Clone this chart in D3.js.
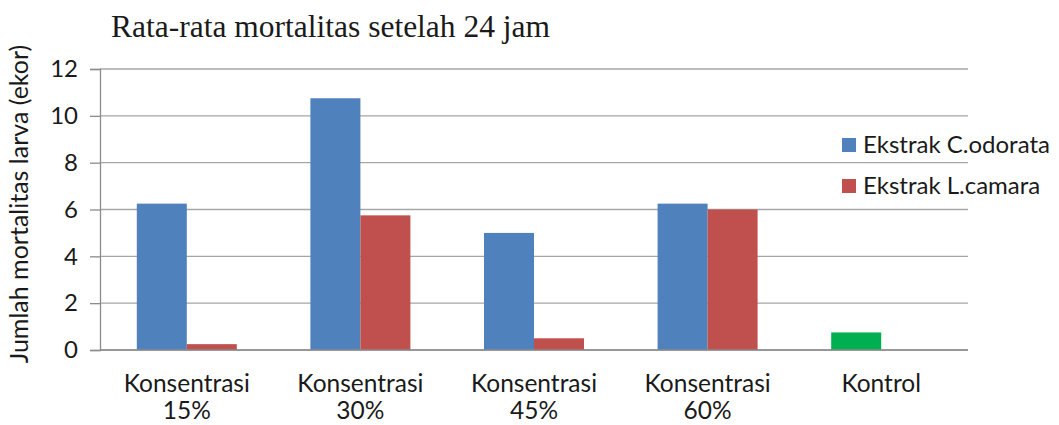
<!DOCTYPE html>
<html>
<head>
<meta charset="utf-8">
<script src="https://cdn.jsdelivr.net/npm/d3@7"></script>
<style>
  body { margin: 0; background: #fff; }
  text { fill: #1a1a1a; }
</style>
</head>
<body>
<div id="chart"></div>
<script>
// data
const categories = ['Konsentrasi 15%', 'Konsentrasi 30%', 'Konsentrasi 45%', 'Konsentrasi 60%', 'Kontrol'];
const odorata = [6.25, 10.75, 5, 6.25, 0.75];
const camara = [0.25, 5.75, 0.5, 6, 0];
const seriesNames = ['Ekstrak C.odorata', 'Ekstrak L.camara'];
const yTicks = [0, 2, 4, 6, 8, 10, 12];

const svgWidth = 1059, svgHeight = 425;
const margin = { top: 69, left: 100, right: 91, bottom: 75 };
const width = svgWidth - margin.left - margin.right;
const height = svgHeight - margin.top - margin.bottom;

const colors = { 'Ekstrak C.odorata': '#4F81BD', 'Ekstrak L.camara': '#C0504D' };
const kontrolColor = '#00B050';

const svg = d3.select('#chart').append('svg')
  .attr('width', svgWidth)
  .attr('height', svgHeight);

// title
svg.append('text')
  .attr('x', 111)
  .attr('y', 37)
  .attr('font-family', 'Liberation Serif')
  .attr('font-size', '31.5px')
  .text('Rata-rata mortalitas setelah 24 jam');

const chart = svg.append('g')
  .attr('transform', `translate(${margin.left}, ${margin.top})`);

const xScale = d3.scaleBand().domain(categories).range([0, width]);
const xInner = d3.scaleBand().domain(seriesNames).range([xScale.bandwidth() / 2 - 50, xScale.bandwidth() / 2 + 50]);
const yScale = d3.scaleLinear().domain([0, 12]).range([height, 0]);

// grid lines
chart.append('g')
  .selectAll('line')
  .data(yTicks)
  .enter()
  .append('line')
  .attr('x1', 0)
  .attr('x2', width)
  .attr('y1', d => yScale(d))
  .attr('y2', d => yScale(d))
  .attr('stroke', '#a6a6a6')
  .attr('stroke-width', 1.3);

// y axis
const yAxis = chart.append('g')
  .call(d3.axisLeft(yScale).tickValues(yTicks).tickSize(10).tickPadding(12));
yAxis.select('.domain').attr('stroke', '#8c8c8c').attr('stroke-width', 1.3);
yAxis.selectAll('.tick line').attr('stroke', '#8c8c8c').attr('stroke-width', 1.3);
yAxis.selectAll('.tick text')
  .attr('font-family', 'Lato')
  .attr('font-size', '24px')
  .attr('fill', '#1a1a1a');

// y axis title
svg.append('text')
  .attr('transform', `translate(28, 204) rotate(-90)`)
  .attr('text-anchor', 'middle')
  .attr('font-family', 'Lato')
  .attr('font-size', '25px')
  .text('Jumlah mortalitas larva (ekor)');

// bars
const rows = categories.map((c, i) => ({ cat: c, values: [
  { name: seriesNames[0], value: odorata[i] },
  { name: seriesNames[1], value: camara[i] }
] }));

const groups = chart.selectAll('.group')
  .data(rows)
  .enter()
  .append('g')
  .attr('class', 'group')
  .attr('transform', d => `translate(${xScale(d.cat)}, 0)`);

groups.selectAll('rect')
  .data(d => d.values.map(v => Object.assign({ cat: d.cat }, v)))
  .enter()
  .append('rect')
  .attr('x', d => xInner(d.name))
  .attr('width', xInner.bandwidth())
  .attr('y', d => yScale(d.value))
  .attr('height', d => height - yScale(d.value))
  .attr('fill', d => d.cat === 'Kontrol' ? kontrolColor : colors[d.name]);

// x axis baseline
chart.append('line')
  .attr('x1', 0)
  .attr('x2', width)
  .attr('y1', height)
  .attr('y2', height)
  .attr('stroke', '#8c8c8c')
  .attr('stroke-width', 1.3);

// x labels (two lines)
categories.forEach(cat => {
  const parts = cat.split(' ');
  const t = chart.append('text')
    .attr('text-anchor', 'middle')
    .attr('font-family', 'Lato')
    .attr('font-size', '24.5px')
    .attr('x', xScale(cat) + xScale.bandwidth() / 2)
    .attr('y', height + 42);
  parts.forEach((p, i) => {
    t.append('tspan')
      .attr('x', xScale(cat) + xScale.bandwidth() / 2)
      .attr('dy', i === 0 ? 0 : 27)
      .text(p);
  });
});

// legend
const legend = svg.append('g')
  .attr('transform', 'translate(842, 138)');
seriesNames.forEach((name, i) => {
  legend.append('rect')
    .attr('x', 0)
    .attr('y', i * 41)
    .attr('width', 14)
    .attr('height', 14)
    .attr('fill', colors[name]);
  legend.append('text')
    .attr('x', 21)
    .attr('y', i * 41 + 15)
    .attr('font-family', 'Lato')
    .attr('font-size', '24px')
    .text(name);
});
</script>
</body>
</html>
